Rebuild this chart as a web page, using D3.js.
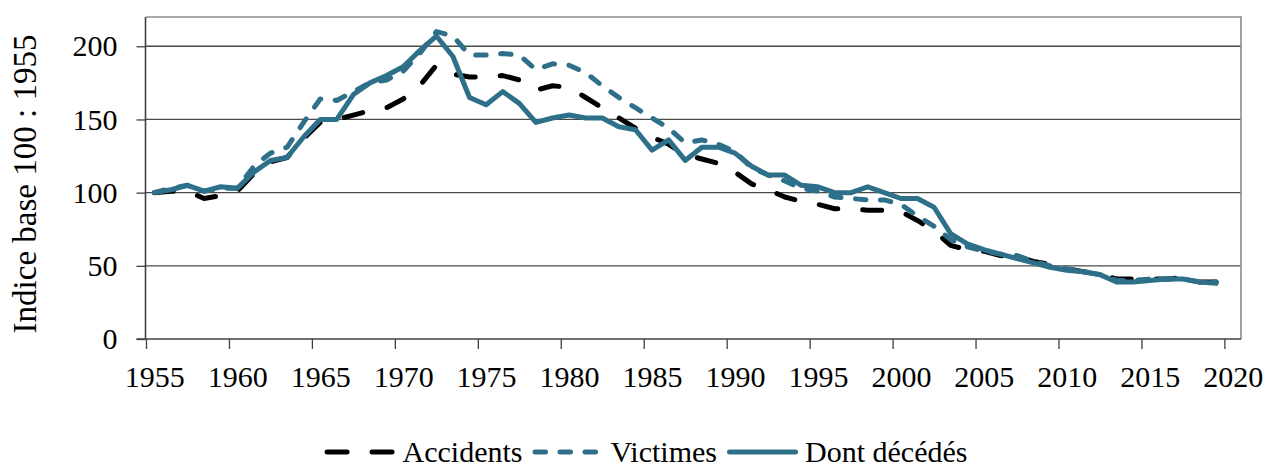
<!DOCTYPE html>
<html>
<head>
<meta charset="utf-8">
<script src="https://cdn.jsdelivr.net/npm/d3@7"></script>
<style>
  html, body { margin: 0; padding: 0; background: #ffffff; }
  svg { display: block; }
  text { font-family: "Liberation Serif", "Times New Roman", serif; fill: #000; }
</style>
</head>
<body>
<svg id="chart" width="1266" height="469"></svg>
<script>
// ---- data ----
const years = d3.range(1955, 2020);
const accidents = [100,101,101,96,98,101,113,121,124,137,148,150,153,156,158,164,173,187,181,179,179,180,177,170,173,172,165,158,151,144,138,133,126,123,120,114,106,102,97,94,92,89,89,88,88,87,81,74,64,61,60,57,56,53,51,48,46,44,41,41,41,41,42,39,39];
const victimes = [100,103,105,101,103,103,118,127,131,148,164,163,169,175,177,183,195,210,207,194,194,195,194,184,188,187,182,173,165,158,151,144,134,136,133,128,117,112,108,103,101,97,96,95,95,92,84,77,68,63,60,58,57,53,50,48,46,44,40,40,41,41,41,39,39];
const decedes = [100,102,105,101,104,103,114,122,124,138,150,150,167,175,180,186,197,207,193,165,160,169,161,148,151,153,151,151,145,143,129,136,122,131,131,127,118,112,112,105,104,100,100,104,100,96,96,90,72,65,61,58,55,52,49,47,46,44,39,39,40,41,41,39,38];
const xTickYears = [1955,1960,1965,1970,1975,1980,1985,1990,1995,2000,2005,2010,2015,2020];
const yTicks = [0,50,100,150,200];
const seriesNames = ["Accidents", "Victimes", "Dont décédés"];
const yTitle = "Indice base 100 : 1955";

// ---- layout ----
const pLeft = 146, pRight = 1241, pTop = 17, pBottom = 339;
const svg = d3.select("#chart");
const x = d3.scaleLinear().domain([1955, 2021]).range([pLeft, pRight]);
const y = d3.scaleLinear().domain([0, 220]).range([pBottom, pTop]);
const teal = "#2e7089";

// gridlines
svg.append("g").selectAll("line").data(yTicks.filter(d => d > 0)).join("line")
  .attr("x1", pLeft).attr("x2", pRight)
  .attr("y1", d => y(d)).attr("y2", d => y(d))
  .attr("stroke", "#4a4a4a").attr("stroke-width", 1.3);

// plot frame (top & right)
svg.append("path")
  .attr("d", `M${pLeft},${pTop}H${pRight}V${pBottom}`)
  .attr("fill", "none").attr("stroke", "#8c8c8c").attr("stroke-width", 1.6);

// y axis
const yAxis = svg.append("g").attr("transform", `translate(${pLeft - 0.5},0)`)
  .call(d3.axisLeft(y).tickValues(yTicks).tickSize(9).tickPadding(19).tickFormat(d3.format("d")));
yAxis.select(".domain").attr("stroke", "#404040").attr("stroke-width", 1.6)
  .attr("d", `M-9,${y(0)}H0V${pTop}`);
yAxis.selectAll(".tick line").attr("stroke", "#404040").attr("stroke-width", 1.3);
yAxis.selectAll(".tick text").attr("font-size", 30).attr("font-family", "Liberation Serif").attr("dy", "0.32em").attr("fill", "#000");

// x axis
const half = (x(1956) - x(1955)) / 2;
const xAxis = svg.append("g").attr("transform", `translate(0,${pBottom})`)
  .call(d3.axisBottom(x).tickValues(xTickYears).tickSize(10).tickFormat(d3.format("d")));
xAxis.select(".domain").attr("stroke", "#404040").attr("stroke-width", 1.6)
  .attr("d", `M${pLeft},0H${pRight}`);
xAxis.selectAll(".tick line").attr("stroke", "#404040").attr("stroke-width", 1.3);
xAxis.selectAll(".tick text").attr("font-size", 30).attr("font-family", "Liberation Serif")
  .attr("fill", "#000").attr("x", half).attr("y", 48).attr("dy", 0);

// y title
svg.append("text")
  .attr("transform", `translate(36,${(pTop + pBottom) / 2 + 6}) rotate(-90)`)
  .attr("text-anchor", "middle").attr("font-size", 33)
  .text(yTitle);

// lines
const line = d3.line().x((d, i) => x(years[i] + 0.5)).y(d => y(d));
const styles = [
  { data: accidents, color: "#000000", dash: "19,25" },
  { data: victimes, color: teal, dash: "10.5,14.5" },
  { data: decedes, color: teal, dash: null }
];
styles.forEach(s => {
  svg.append("path").datum(s.data)
    .attr("d", line)
    .attr("fill", "none").attr("stroke", s.color).attr("stroke-width", 5)
    .attr("stroke-linejoin", "round").attr("stroke-linecap", "round")
    .attr("stroke-dasharray", s.dash);
});

// legend
const legend = svg.append("g");
const sample = 66, textGap = 12, itemGap = 10;
let items = styles.map((s, i) => {
  const g = legend.append("g");
  g.append("line").attr("x1", 2.5).attr("x2", 2.5 + sample).attr("y1", 0).attr("y2", 0)
    .attr("stroke", s.color).attr("stroke-width", 5).attr("stroke-linecap", "round")
    .attr("stroke-dasharray", i === 0 ? "20,25" : s.dash);
  const t = g.append("text").attr("x", sample + textGap).attr("y", 9.5).attr("font-size", 30).text(seriesNames[i]);
  return { g, w: sample + textGap + t.node().getComputedTextLength() };
});
const total = d3.sum(items, d => d.w) + itemGap * (items.length - 1);
let cx = 646 - total / 2;
items.forEach(it => {
  it.g.attr("transform", `translate(${cx},452)`);
  cx += it.w + itemGap;
});
</script>
</body>
</html>
